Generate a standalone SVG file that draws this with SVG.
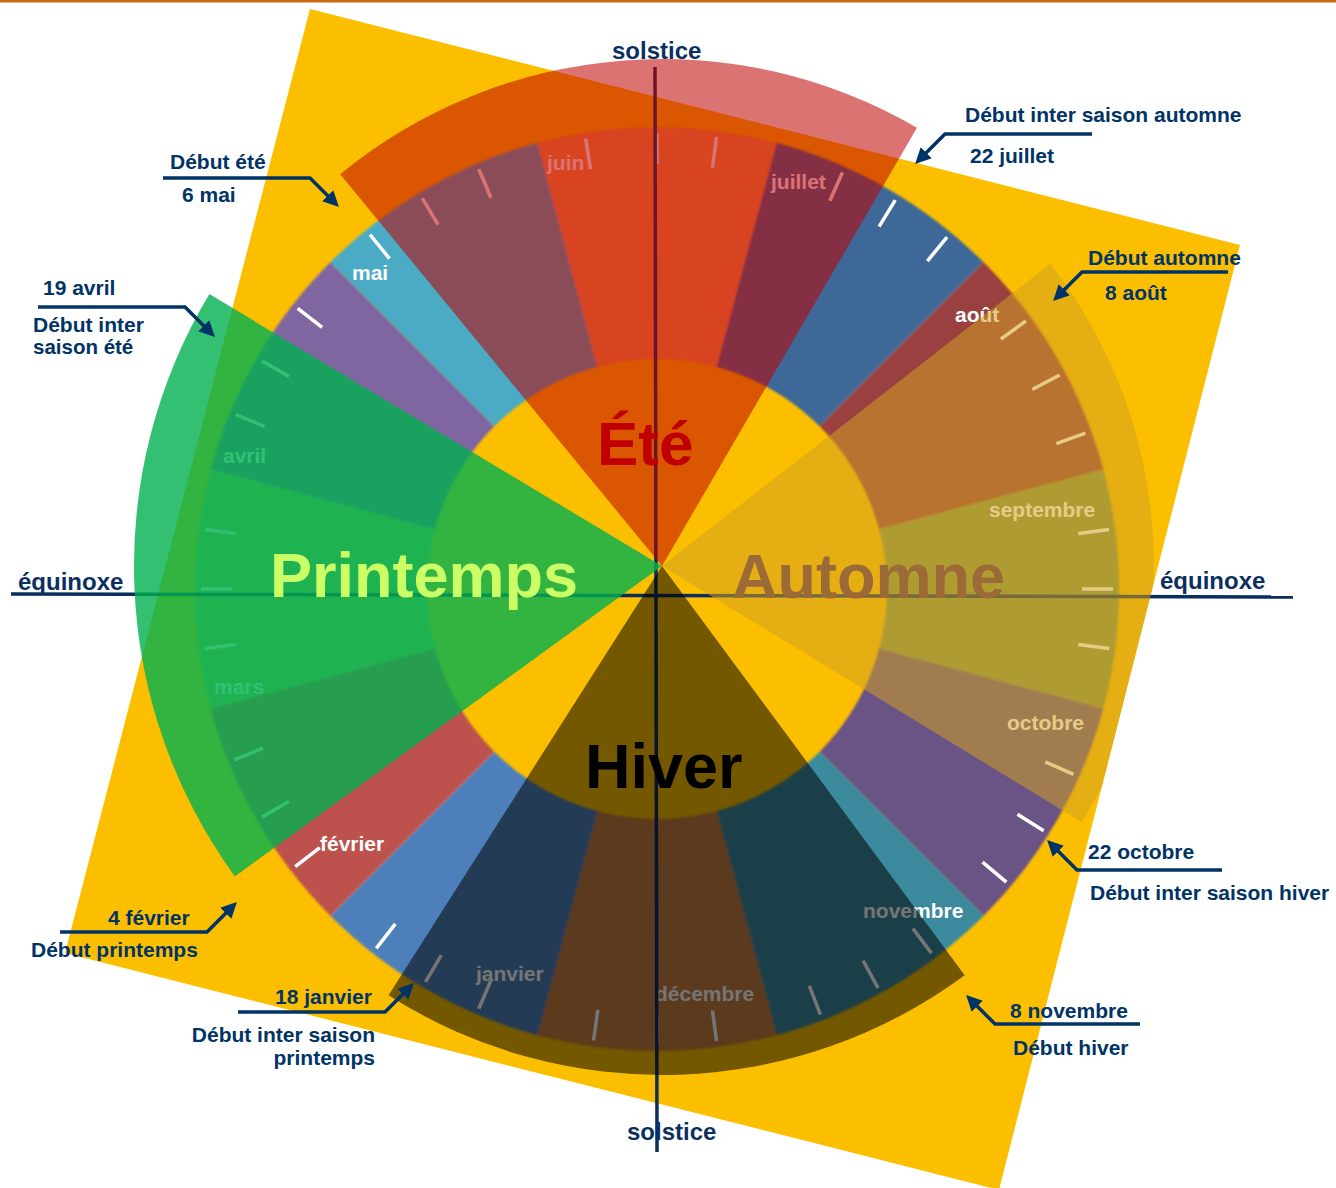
<svg xmlns="http://www.w3.org/2000/svg" width="1336" height="1188" viewBox="0 0 1336 1188">
<defs>
<style>
.t{font-family:"Liberation Sans",Arial,Helvetica,sans-serif;font-weight:bold}
.m{font-size:21px;fill:#ffffff}
.c{font-size:21px;fill:#003366}
.ax{font-size:24px;fill:#0B2F5F}
.s{font-size:63px}
.tick{stroke:#ffffff;stroke-width:3.5}
.cl{fill:none;stroke:#003366;stroke-width:3.5;marker-end:url(#ah)}
.axis{stroke:#0B2D5C;stroke-width:3.5}
</style>
<path id="sec" d="M657,589 L537.43,142.75 A462,462 0 0 1 776.57,142.75 Z"/>
<line id="tk" x1="657" y1="133" x2="657" y2="164"/>
<filter id="soft" x="-5%" y="-5%" width="110%" height="110%"><feGaussianBlur stdDeviation="1.2"/></filter>
<clipPath id="sqclip"><polygon points="310,9 1240,245 999,1190 65,953"/></clipPath>
<marker id="ah" viewBox="0 0 10 10" refX="2" refY="5" markerWidth="4.5" markerHeight="4.5" orient="auto"><path d="M0,0 L10,5 L0,10 Z" fill="#003366"/></marker>
</defs>
<rect x="0" y="0" width="1336" height="1188" fill="#ffffff"/>
<rect x="0" y="0" width="1336" height="2.5" fill="#C96A0C"/>
<polygon id="background-square" points="310,9 1240,245 999,1190 65,953" fill="#FCBF00"/>

<g id="month-ring" filter="url(#soft)">
<use id="sec-juin" href="#sec" fill="#F79646"/>
<use id="sec-juillet" href="#sec" fill="#3E6898" transform="rotate(30 657 589)"/>
<use id="sec-aout" href="#sec" fill="#9A4040" transform="rotate(60 657 589)"/>
<use id="sec-septembre" href="#sec" fill="#859848" transform="rotate(90 657 589)"/>
<use id="sec-octobre" href="#sec" fill="#6A5285" transform="rotate(120 657 589)"/>
<use id="sec-novembre" href="#sec" fill="#3B8A9E" transform="rotate(150 657 589)"/>
<use id="sec-decembre" href="#sec" fill="#C87E3F" transform="rotate(180 657 589)"/>
<use id="sec-janvier" href="#sec" fill="#4E80BA" transform="rotate(210 657 589)"/>
<use id="sec-fevrier" href="#sec" fill="#BD514E" transform="rotate(240 657 589)"/>
<use id="sec-mars" href="#sec" fill="#9BBB59" transform="rotate(270 657 589)"/>
<use id="sec-avril" href="#sec" fill="#8066A0" transform="rotate(300 657 589)"/>
<use id="sec-mai" href="#sec" fill="#4BAAC4" transform="rotate(330 657 589)"/>
</g>

<g id="ticks" class="tick">
<use href="#tk" transform="rotate(351 657 589)"/><use href="#tk"/><use href="#tk" transform="rotate(7.5 657 589)"/>
<use href="#tk" transform="rotate(24 657 589)"/><use href="#tk" transform="rotate(31.5 657 589)"/><use href="#tk" transform="rotate(39.5 657 589)"/>
<use href="#tk" transform="rotate(54 657 589)"/><use href="#tk" transform="rotate(62 657 589)"/><use href="#tk" transform="rotate(70 657 589)"/>
<use href="#tk" transform="rotate(82.5 657 589)"/><use href="#tk" transform="rotate(90 657 589)"/><use href="#tk" transform="rotate(97.5 657 589)"/>
<use href="#tk" transform="rotate(114 657 589)"/><use href="#tk" transform="rotate(122 657 589)"/><use href="#tk" transform="rotate(130 657 589)"/>
<use href="#tk" transform="rotate(143 657 589)"/><use href="#tk" transform="rotate(151 657 589)"/><use href="#tk" transform="rotate(159 657 589)"/>
<use href="#tk" transform="rotate(172.5 657 589)"/><use href="#tk" transform="rotate(180 657 589)"/><use href="#tk" transform="rotate(188 657 589)"/>
<use href="#tk" transform="rotate(203 657 589)"/><use href="#tk" transform="rotate(210.5 657 589)"/><use href="#tk" transform="rotate(218 657 589)"/>
<use href="#tk" transform="rotate(232.5 657 589)"/><use href="#tk" transform="rotate(240 657 589)"/><use href="#tk" transform="rotate(248 657 589)"/>
<use href="#tk" transform="rotate(262.5 657 589)"/><use href="#tk" transform="rotate(270 657 589)"/><use href="#tk" transform="rotate(277.5 657 589)"/>
<use href="#tk" transform="rotate(292.5 657 589)"/><use href="#tk" transform="rotate(300 657 589)"/><use href="#tk" transform="rotate(308 657 589)"/>
<use href="#tk" transform="rotate(321 657 589)"/><use href="#tk" transform="rotate(329 657 589)"/><use href="#tk" transform="rotate(337 657 589)"/>
</g>

<g id="month-labels" class="t m">
<text id="lbl-mai" x="352" y="280">mai</text>
<text id="lbl-juin" x="547" y="170">juin</text>
<text id="lbl-juillet" x="771" y="189">juillet</text>
<text id="lbl-aout" x="955" y="322">août</text>
<text id="lbl-septembre" x="989" y="517">septembre</text>
<text id="lbl-octobre" x="1007" y="730">octobre</text>
<text id="lbl-novembre" x="863" y="918">novembre</text>
<text id="lbl-decembre" x="655" y="1001">décembre</text>
<text id="lbl-janvier" x="476" y="981">janvier</text>
<text id="lbl-fevrier" x="320" y="851">février</text>
<text id="lbl-mars" x="214" y="694">mars</text>
<text id="lbl-avril" x="223" y="463">avril</text>
</g>

<circle id="inner-disk" cx="657" cy="589" r="230" fill="#FCBF00" filter="url(#soft)"/>

<g id="axes" class="axis">
<line x1="655" y1="67" x2="657" y2="1152"/>
<line x1="11" y1="594" x2="1293" y2="597"/>
</g>

<g id="season-ete"><path d="M662,566 L340.2,174.2 A507,507 0 0 1 917.0,127.8 Z" fill="#C00000" fill-opacity="0.55"/></g>
<g id="season-printemps"><path d="M662,566 L234.8,876.4 A528,528 0 0 1 209.4,294.1 Z" fill="#00B050" fill-opacity="0.8"/></g>
<g id="season-automne" clip-path="url(#sqclip)"><path d="M662,566 L1050.2,263.8 A492,492 0 0 1 1081.9,822.3 Z" fill="rgb(209,159,33)" fill-opacity="0.54"/></g>
<g id="season-hiver"><path d="M662,566 L964.7,975.2 A509,509 0 0 1 388.5,995.3 Z" fill="#000000" fill-opacity="0.54"/></g>

<g id="season-labels" class="t s">
<text x="597" y="465" fill="#C00000" style="font-size:62px">Été</text>
<text x="270" y="597" fill="#CCFF66">Printemps</text>
<text x="732" y="598" fill="#9B6A36">Automne</text>
<text x="585" y="788" fill="#000000">Hiver</text>
</g>

<g id="axis-labels" class="t ax">
<text x="612" y="59">solstice</text>
<text x="627" y="1140">solstice</text>
<text x="18" y="590">équinoxe</text>
<text x="1160" y="589">équinoxe</text>
</g>

<g id="connectors">
<polyline class="cl" points="163,178 310,178 330,198"/>
<polyline class="cl" points="38,307 185,307 206,328"/>
<polyline class="cl" points="1092,134 945,134 924,155"/>
<polyline class="cl" points="1228,272 1082,272 1062,292"/>
<polyline class="cl" points="1222,870 1077,870 1056,849"/>
<polyline class="cl" points="1140,1024 995,1024 975,1004"/>
<polyline class="cl" points="60,932 207,932 228,911"/>
<polyline class="cl" points="238,1012 385,1012 405,992"/>
</g>

<g id="callout-debut-ete" class="t c"><text x="170" y="169">Début été</text><text x="182" y="202">6 mai</text></g>
<g id="callout-inter-ete" class="t c"><text x="43" y="295">19 avril</text><text x="33" y="332">Début inter</text><text x="33" y="354" style="font-size:20.5px">saison été</text></g>
<g id="callout-inter-automne" class="t c"><text x="965" y="122">Début inter saison automne</text><text x="970" y="163">22 juillet</text></g>
<g id="callout-debut-automne" class="t c"><text x="1088" y="265">Début automne</text><text x="1105" y="300">8 août</text></g>
<g id="callout-inter-hiver" class="t c"><text x="1088" y="859">22 octobre</text><text x="1090" y="900">Début inter saison hiver</text></g>
<g id="callout-debut-hiver" class="t c"><text x="1010" y="1018">8 novembre</text><text x="1013" y="1055">Début hiver</text></g>
<g id="callout-debut-printemps" class="t c"><text x="108" y="925">4 février</text><text x="31" y="957">Début printemps</text></g>
<g id="callout-inter-printemps" class="t c"><text x="275" y="1004">18 janvier</text><text x="375" y="1042" text-anchor="end">Début inter saison</text><text x="375" y="1065" text-anchor="end">printemps</text></g>
</svg>
